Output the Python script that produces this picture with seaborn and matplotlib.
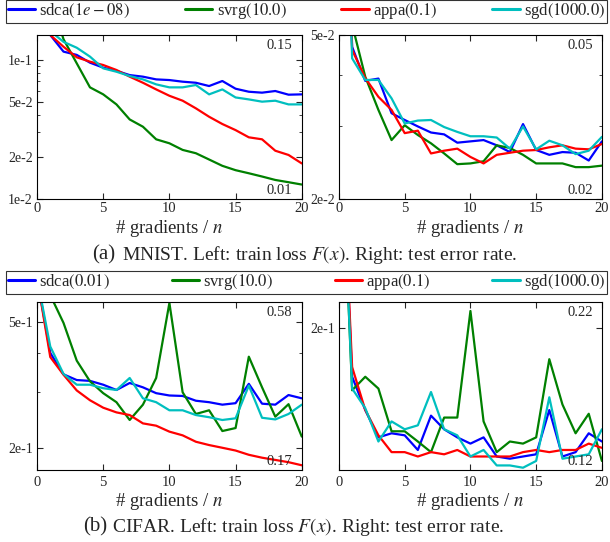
import matplotlib
matplotlib.use("Agg")
import matplotlib.pyplot as plt
import matplotlib.ticker as mticker
from matplotlib.lines import Line2D
import numpy as np
import pandas as pd
import seaborn as sns

# ---- data ------------------------------------------------------------------
steps = list(range(0, 21))
methods = ["sdca", "svrg", "appa", "sgd"]
colors = {"sdca": "#0000ff", "svrg": "#008000", "appa": "#ff0000", "sgd": "#00bfbf"}

mnist_labels = [r"sdca$(1e\:-\:08)$", "svrg$(10.0)$", "appa$(0.1)$", "sgd$(1000.0)$"]
cifar_labels = ["sdca$(0.01)$", "svrg$(10.0)$", "appa$(0.1)$", "sgd$(1000.0)$"]

mnist_train = {
    "sdca": [0.693, 0.15, 0.114, 0.108, 0.095, 0.0875, 0.083, 0.0774, 0.0754, 0.0721, 0.0713,
             0.0694, 0.0682, 0.0646, 0.0702, 0.0618, 0.0588, 0.0579, 0.0595, 0.056, 0.0563],
    "svrg": [0.693, 0.28, 0.14, 0.094, 0.0632, 0.0563, 0.0477, 0.0372, 0.033, 0.0268, 0.0251,
             0.0225, 0.0213, 0.0192, 0.0173, 0.0161, 0.0153, 0.0145, 0.0137, 0.0132, 0.0127],
    "appa": [0.693, 0.15, 0.1236, 0.1038, 0.0966, 0.0914, 0.0842, 0.0754, 0.0682, 0.0611, 0.055,
             0.0507, 0.0447, 0.0389, 0.0345, 0.0312, 0.0277, 0.0268, 0.0222, 0.0207, 0.018],
    "sgd":  [0.693, 0.16, 0.134, 0.1216, 0.105, 0.0865, 0.0818, 0.0762, 0.0721, 0.0664, 0.0632,
             0.0632, 0.0657, 0.0563, 0.0611, 0.0535, 0.0518, 0.0499, 0.0507, 0.0477, 0.0477],
}
mnist_test = {
    "sdca": [0.5, 0.0468, 0.0387, 0.0392, 0.0323, 0.0311, 0.030, 0.029, 0.0287, 0.0274, 0.0276,
             0.0278, 0.027, 0.026, 0.0304, 0.0263, 0.0256, 0.026, 0.0259, 0.0248, 0.0276],
    "svrg": [0.5, 0.053, 0.0396, 0.0329, 0.0278, 0.0302, 0.0286, 0.0273, 0.0258, 0.0243, 0.0244,
             0.0247, 0.027, 0.0266, 0.0256, 0.0244, 0.0244, 0.0244, 0.0239, 0.0239, 0.0241],
    "appa": [0.5, 0.046, 0.0393, 0.0354, 0.0329, 0.0289, 0.0293, 0.0258, 0.0262, 0.0265, 0.0253,
             0.0244, 0.0256, 0.0259, 0.0262, 0.0263, 0.0267, 0.027, 0.0265, 0.0264, 0.0272],
    "sgd":  [0.5, 0.0439, 0.0389, 0.0389, 0.0351, 0.0305, 0.031, 0.0311, 0.0299, 0.0291, 0.0284,
             0.0284, 0.0282, 0.0265, 0.030, 0.0264, 0.0277, 0.027, 0.0257, 0.0262, 0.0283],
}
cifar_train = {
    "sdca": [0.693, 0.40, 0.342, 0.328, 0.326, 0.317, 0.305, 0.321, 0.311, 0.298, 0.293,
             0.292, 0.282, 0.279, 0.274, 0.277, 0.319, 0.276, 0.274, 0.294, 0.287],
    "svrg": [0.693, 0.61, 0.498, 0.378, 0.325, 0.298, 0.279, 0.245, 0.274, 0.333, 0.576,
             0.300, 0.256, 0.263, 0.226, 0.231, 0.389, 0.311, 0.251, 0.275, 0.217],
    "appa": [0.693, 0.388, 0.341, 0.304, 0.283, 0.268, 0.259, 0.254, 0.239, 0.235, 0.225,
             0.219, 0.209, 0.204, 0.200, 0.196, 0.190, 0.186, 0.183, 0.180, 0.176],
    "sgd":  [0.693, 0.419, 0.343, 0.317, 0.317, 0.309, 0.305, 0.333, 0.287, 0.279, 0.263,
             0.263, 0.254, 0.250, 0.245, 0.248, 0.315, 0.249, 0.246, 0.256, 0.274],
}
cifar_test = {
    "sdca": [0.5, 0.168, 0.149, 0.135, 0.137, 0.136, 0.129, 0.146, 0.139, 0.135, 0.132,
             0.135, 0.126, 0.125, 0.126, 0.127, 0.149, 0.126, 0.128, 0.137, 0.133],
    "svrg": [0.5, 0.160, 0.168, 0.161, 0.138, 0.138, 0.133, 0.128, 0.145, 0.145, 0.213,
             0.143, 0.128, 0.133, 0.132, 0.135, 0.179, 0.152, 0.137, 0.147, 0.124],
    "appa": [0.5, 0.174, 0.149, 0.136, 0.128, 0.128, 0.126, 0.128, 0.127, 0.129, 0.126,
             0.126, 0.126, 0.126, 0.128, 0.129, 0.128, 0.129, 0.129, 0.132, 0.130],
    "sgd":  [0.5, 0.161, 0.150, 0.133, 0.143, 0.139, 0.141, 0.159, 0.139, 0.136, 0.126,
             0.129, 0.122, 0.122, 0.121, 0.124, 0.156, 0.125, 0.126, 0.127, 0.139],
}

panels = [
    (mnist_train, (0.01, 0.15), "0.15", "0.01"),
    (mnist_test, (0.02, 0.05), "0.05", "0.02"),
    (cifar_train, (0.17, 0.58), "0.58", "0.17"),
    (cifar_test, (0.12, 0.22), "0.22", "0.12"),
]

# ---- style ------------------------------------------------------------------
sns.set_theme(style="ticks")
plt.rcParams["font.family"] = ["Liberation Serif", "DejaVu Serif"]
plt.rcParams["mathtext.fontset"] = "stix"
plt.rcParams["axes.linewidth"] = 0.8
plt.rcParams["axes.edgecolor"] = "black"


def to_long(series):
    rows = []
    for m in methods:
        for x, v in zip(steps, series[m]):
            rows.append({"x": x, "val": v, "method": m})
    return pd.DataFrame(rows)


def log_ticks(lo, hi, mants):
    out = []
    for e in range(int(np.floor(np.log10(lo))) - 1, int(np.ceil(np.log10(hi))) + 1):
        for m in mants:
            v = m * 10.0 ** e
            if lo * 0.999 <= v <= hi * 1.001:
                out.append(v)
    return out


def log_label(v, pos):
    e = int(np.floor(np.log10(v) + 1e-9))
    m = int(round(v / 10 ** e))
    return f"{m}e{e}"


fig = plt.figure(figsize=(6.1, 5.42), dpi=100)
rects = [
    [0.0607, 0.6328, 0.434, 0.3026],
    [0.5557, 0.6328, 0.431, 0.3026],
    [0.0607, 0.1328, 0.434, 0.31],
    [0.5557, 0.1328, 0.431, 0.31],
]

for i, ((series, ylim, top_txt, bot_txt), rect) in enumerate(zip(panels, rects)):
    ax = fig.add_axes(rect)
    sns.lineplot(data=to_long(series), x="x", y="val", hue="method",
                 hue_order=methods, palette=colors, linewidth=1.6,
                 estimator=None, legend=False, ax=ax)
    ax.set_yscale("log")
    ax.set_xlim(0, 20)
    ax.set_ylim(*ylim)
    ax.yaxis.set_major_locator(mticker.FixedLocator(log_ticks(*ylim, (1, 2, 5))))
    ax.yaxis.set_minor_locator(mticker.FixedLocator(log_ticks(*ylim, (3, 4, 6, 7, 8, 9))))
    ax.yaxis.set_major_formatter(mticker.FuncFormatter(log_label))
    ax.yaxis.set_minor_formatter(mticker.NullFormatter())
    ax.set_xticks([0, 5, 10, 15, 20])
    xpad = 2 if i < 2 else 4
    ax.tick_params(axis="x", which="both", direction="in", top=True, labelsize=10.5,
                   length=4, width=0.8, pad=xpad)
    ax.tick_params(axis="y", which="major", direction="in", right=True, labelsize=10,
                   length=4, width=0.8, pad=3)
    ax.tick_params(axis="y", which="minor", direction="in", right=True, length=2.5, width=0.6)
    ax.set_ylabel("")
    ax.set_xlabel("# gradients / $n$", fontsize=13.5, labelpad=2)
    ax.text(0.965, 0.975, top_txt, transform=ax.transAxes, ha="right", va="top", fontsize=10.5)
    ax.text(0.965, 0.015, bot_txt, transform=ax.transAxes, ha="right", va="bottom", fontsize=10.5)
    for sp in ax.spines.values():
        sp.set_color("black")
        sp.set_linewidth(0.8)


def add_legend(labels, y0, h):
    handles = [Line2D([], [], color=colors[m], lw=2.2) for m in methods]
    leg = fig.legend(handles, labels, loc="lower left", ncol=4, mode="expand",
                     bbox_to_anchor=(0.0098, y0, 0.985, h), bbox_transform=fig.transFigure,
                     frameon=True, fancybox=False, fontsize=12, handlelength=1.65,
                     handletextpad=0.25, borderpad=0.1, borderaxespad=0.0, columnspacing=1.0)
    leg.get_frame().set_edgecolor("black")
    leg.get_frame().set_linewidth(0.8)


add_legend(mnist_labels, 0.9576, 0.035)
add_legend(cifar_labels, 0.4576, 0.032)

# captions
fig.text(115 / 610, 0.5295, "(a)", ha="right", va="center", fontsize=15)
fig.text(122 / 610, 0.5295, "MNIST. Left: train loss $F(x)$. Right: test error rate.",
         ha="left", va="center", fontsize=14)
fig.text(107 / 610, 0.0277, "(b)", ha="right", va="center", fontsize=15)
fig.text(112 / 610, 0.0277, "CIFAR. Left: train loss $F(x)$. Right: test error rate.",
         ha="left", va="center", fontsize=14)

fig.savefig("out.png", dpi=100)
